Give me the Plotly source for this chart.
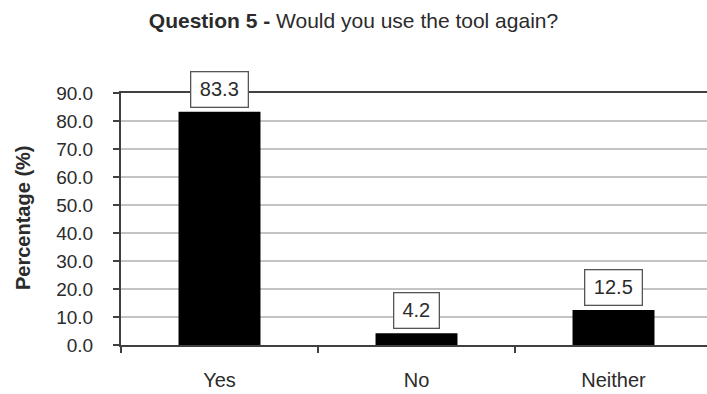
import plotly.graph_objects as go

categories = ["Yes", "No", "Neither"]
percentages = [83.3, 4.2, 12.5]
value_labels = ["83.3", "4.2", "12.5"]
y_ticks = [0, 10, 20, 30, 40, 50, 60, 70, 80, 90]

FONT = "Liberation Sans, Arial, sans-serif"
TXT = "#2b2b2b"

W, H = 707, 394
L, R, T, B = 121, 0, 93, 49
cat_px = 197.0
plot_w = W - L - R
plot_h = H - T - B

fig = go.Figure(
    go.Bar(
        x=categories,
        y=percentages,
        width=0.416,
        marker=dict(color="#000000", line=dict(width=0)),
        hoverinfo="skip",
    )
)

for c, v, s in zip(categories, percentages, value_labels):
    fig.add_annotation(
        x=c, y=v, xref="x", yref="y",
        text=s, showarrow=False,
        xanchor="center", yanchor="bottom", yshift=4,
        font=dict(family=FONT, size=20, color=TXT),
        bgcolor="white", bordercolor="#555555", borderwidth=1.3, borderpad=6,
        width=12 * len(s) - 4,
    )

fig.add_annotation(
    x=(23 - L) / plot_w, y=(H - B - 218) / plot_h, xref="paper", yref="paper",
    xanchor="center", yanchor="middle",
    text="<b>Percentage (%)</b>", showarrow=False, textangle=-90,
    font=dict(family=FONT, size=20, color=TXT),
)

fig.update_layout(
    width=W, height=H,
    margin=dict(l=L, r=R, t=T, b=B, pad=0),
    paper_bgcolor="white", plot_bgcolor="white",
    showlegend=False,
    font=dict(family=FONT, size=19, color=TXT),
    title=dict(
        text="<b>Question 5 -</b> Would you use the tool again?",
        x=0.5, xanchor="center", xref="container",
        y=1 - 21 / H, yanchor="middle", yref="container",
        font=dict(family=FONT, size=21, color=TXT),
    ),
    xaxis=dict(
        type="category",
        range=[-0.5, -0.5 + plot_w / cat_px],
        showline=True, linecolor="#404040", linewidth=2, mirror=True,
        ticks="outside", tickson="boundaries", ticklen=6, tickwidth=2, tickcolor="#404040",
        showgrid=False, zeroline=False,
        tickfont=dict(family=FONT, size=20, color=TXT),
        ticklabelstandoff=16,
        fixedrange=True,
    ),
    yaxis=dict(
        range=[0, 90],
        tickvals=y_ticks,
        tickformat=".1f",
        showline=True, linecolor="#404040", linewidth=2,
        ticks="outside", ticklen=6, tickwidth=2, tickcolor="#404040",
        showgrid=True, gridcolor="#c4c4c4", gridwidth=1.5,
        zeroline=False,
        tickfont=dict(family=FONT, size=19, color=TXT),
        ticklabelstandoff=16,
        fixedrange=True,
    ),
)

fig.write_html("out.html", config={"displayModeBar": False})
